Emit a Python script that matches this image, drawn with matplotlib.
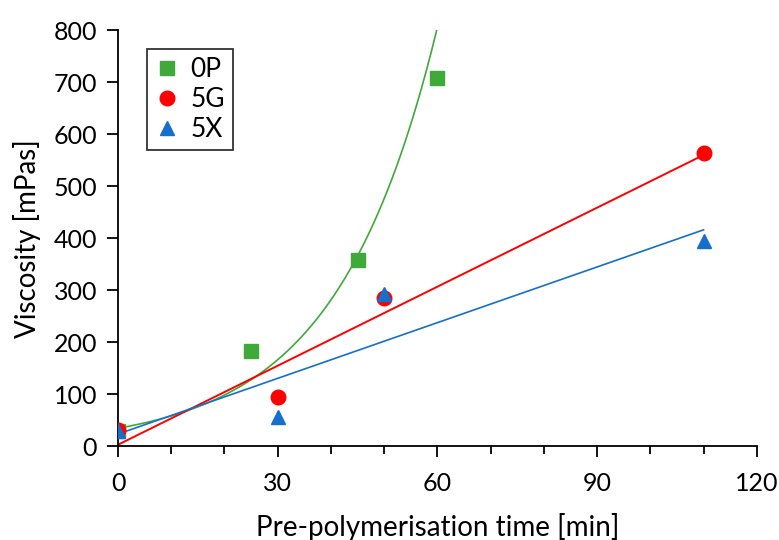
import matplotlib.pyplot as plt
import numpy as np

# pre-polymerisation time [min] and viscosity [mPas]
t_0p = [0, 25, 45, 60]
v_0p = [28, 182, 357, 708]
t_5g = [0, 30, 50, 110]
v_5g = [30, 95, 285, 563]
t_5x = [0, 30, 50, 110]
v_5x = [28, 55, 293, 395]

green = '#3fa93a'
red = '#ff0000'
blue = '#1470cc'

plt.rcParams['font.family'] = ['Lato', 'DejaVu Sans']

fig = plt.figure(figsize=(7.79, 5.40), dpi=100)
ax = fig.add_axes([0.1515, 0.174, 0.82, 0.770])

# trendlines (exponential for 0P, linear for the others)
b, ln_a = np.polyfit(t_0p, np.log(v_0p), 1)
xx = np.linspace(0, 60, 200)
ax.plot(xx, np.exp(ln_a) * np.exp(b * xx), color=green, lw=1.2, zorder=2)
k, c = np.polyfit(t_5g, v_5g, 1)
ax.plot([0, 110], [c, k * 110 + c], color=red, lw=1.4, zorder=2)
k, c = np.polyfit(t_5x, v_5x, 1)
ax.plot([0, 110], [c, k * 110 + c], color=blue, lw=1.2, zorder=2)

ax.plot(t_0p, v_0p, 's', color=green, ms=10, ls='none', label='0P', zorder=3)
ax.plot(t_5g, v_5g, 'o', color=red, ms=10.5, ls='none', label='5G', zorder=3)
ax.plot(t_5x, v_5x, '^', color=blue, ms=10.5, ls='none', label='5X', zorder=4)

ax.set_xlim(0, 120)
ax.set_ylim(0, 800)
ax.set_xticks([0, 30, 60, 90, 120])
ax.set_xticks(np.arange(0, 121, 10), minor=True)
ax.set_yticks(np.arange(0, 801, 100))
for s in ['top', 'right']:
    ax.spines[s].set_visible(False)
for s in ['left', 'bottom']:
    ax.spines[s].set_linewidth(1.3)
ax.tick_params(axis='both', which='major', direction='out', length=8, width=1.3,
               labelsize=18)
ax.tick_params(axis='y', which='major', pad=7)
ax.tick_params(axis='x', which='major', pad=11)
ax.tick_params(axis='x', which='minor', direction='out', length=6, width=1.3)
ax.set_xlabel('Pre-polymerisation time [min]', fontsize=20, labelpad=13)
ax.set_ylabel('Viscosity [mPas]', fontsize=20, labelpad=9)

leg = ax.legend(loc='upper left', bbox_to_anchor=(0.045, 0.955), fontsize=19,
                frameon=True, fancybox=False, edgecolor='black',
                handlelength=0.9, handletextpad=0.45, borderpad=0.3,
                labelspacing=0.2, borderaxespad=0)
leg.get_frame().set_linewidth(1.3)

fig.savefig('out.png', dpi=100)
